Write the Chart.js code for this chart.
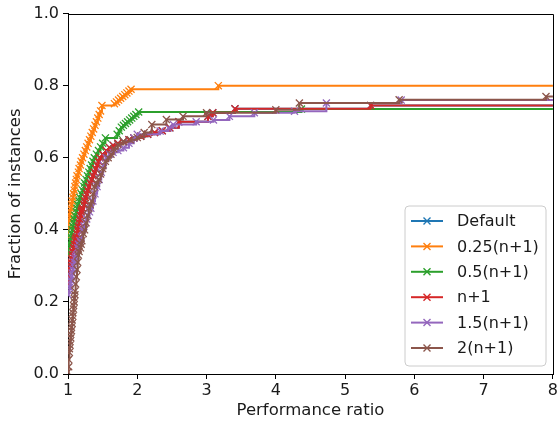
<!DOCTYPE html>
<html lang="en">
<head>
<meta charset="UTF-8" />
<title>Performance profile</title>
<script src="https://cdn.jsdelivr.net/npm/chart.js"></script>
<style>
  html, body { margin: 0; padding: 0; background: #fff; }
  canvas { display: block; }
</style>
</head>
<body>
<canvas id="profile" width="560" height="427"></canvas>
<script>
  // legend labels and tab10 colours, in plotting order
  const seriesNames = ['Default', '0.25(n+1)', '0.5(n+1)', 'n+1', '1.5(n+1)', '2(n+1)'];
  const seriesColors = ['#1f77b4', '#ff7f0e', '#2ca02c', '#d62728', '#9467bd', '#8c564b'];

  const xTicks = [1, 2, 3, 4, 5, 6, 7, 8];
  const yTicks = [0, 0.2, 0.4, 0.6, 0.8, 1.0];

  // performance ratio (x) and fraction of instances (y)
  const ratioQuarter = [1.00, 1.00, 1.01, 1.01, 1.02, 1.03, 1.04, 1.05, 1.06, 1.07, 1.08, 1.09, 1.10, 1.11, 1.12, 1.13, 1.15, 1.16, 1.18, 1.19,
    1.21, 1.23, 1.25, 1.27, 1.29, 1.31, 1.33, 1.35, 1.37, 1.39, 1.41, 1.43, 1.45, 1.47, 1.49, 1.67, 1.70, 1.73, 1.76, 1.79,
    1.82, 1.85, 1.88, 1.91, 3.17, 9];
  const fracQuarter = [0.38, 0.40, 0.42, 0.43, 0.44, 0.45, 0.46, 0.47, 0.48, 0.49, 0.50, 0.51, 0.52, 0.53, 0.54, 0.55, 0.56, 0.57, 0.58, 0.59,
    0.60, 0.61, 0.62, 0.63, 0.64, 0.65, 0.66, 0.67, 0.68, 0.69, 0.70, 0.71, 0.72, 0.73, 0.745, 0.75, 0.755, 0.76, 0.765, 0.77,
    0.775, 0.78, 0.785, 0.79, 0.80, 0.80];

  const ratioHalf = [1.00, 1.01, 1.02, 1.03, 1.04, 1.05, 1.06, 1.07, 1.08, 1.09, 1.10, 1.12, 1.13, 1.14, 1.16, 1.17, 1.19, 1.21, 1.23, 1.24,
    1.26, 1.28, 1.30, 1.32, 1.34, 1.36, 1.38, 1.41, 1.44, 1.47, 1.50, 1.54, 1.71, 1.74, 1.77, 1.80, 1.83, 1.86, 1.89, 1.92,
    1.95, 1.98, 2.02, 4.37, 9];
  const fracHalf = [0.33, 0.35, 0.36, 0.37, 0.38, 0.39, 0.40, 0.41, 0.42, 0.43, 0.44, 0.45, 0.46, 0.47, 0.48, 0.49, 0.50, 0.51, 0.52, 0.53,
    0.54, 0.55, 0.56, 0.57, 0.58, 0.59, 0.60, 0.61, 0.62, 0.63, 0.64, 0.655, 0.665, 0.675, 0.685, 0.69, 0.695, 0.70, 0.705, 0.71,
    0.715, 0.72, 0.727, 0.735, 0.735];

  const ratioN1 = [1.00, 1.01, 1.02, 1.03, 1.04, 1.05, 1.06, 1.07, 1.08, 1.09, 1.10, 1.11, 1.12, 1.13, 1.14, 1.15, 1.16, 1.17, 1.18, 1.19,
    1.20, 1.21, 1.23, 1.24, 1.25, 1.27, 1.28, 1.30, 1.32, 1.34, 1.36, 1.38, 1.40, 1.42, 1.44, 1.46, 1.50, 1.55, 1.60, 1.65,
    1.72, 1.80, 1.88, 1.95, 2.05, 2.15, 2.25, 2.36, 2.47, 2.60, 3.02, 3.09, 3.41, 5.37, 9];
  const fracN1 = [0.25, 0.27, 0.29, 0.30, 0.31, 0.32, 0.33, 0.34, 0.35, 0.36, 0.37, 0.375, 0.38, 0.39, 0.40, 0.41, 0.42, 0.43, 0.44, 0.45,
    0.455, 0.46, 0.47, 0.48, 0.49, 0.50, 0.51, 0.52, 0.53, 0.54, 0.55, 0.56, 0.57, 0.58, 0.59, 0.60, 0.61, 0.62, 0.628, 0.635,
    0.64, 0.645, 0.65, 0.655, 0.66, 0.665, 0.67, 0.675, 0.683, 0.70, 0.715, 0.725, 0.736, 0.745, 0.745];

  // Default sits under n+1 in the picture
  const ratioDefault = [1.00, 1.01, 1.02, 1.03, 1.04, 1.05, 1.06, 1.07, 1.08, 1.09, 1.10, 1.11, 1.12, 1.13, 1.14, 1.15, 1.16, 1.17, 1.18, 1.19,
    1.20, 1.21, 1.23, 1.24, 1.25, 1.27, 1.28, 1.30, 1.32, 1.34, 1.36, 1.38, 1.40, 1.42, 1.44, 1.46, 1.50, 1.55, 1.60, 1.65,
    1.72, 1.80, 1.88, 1.95, 2.05, 2.15, 2.25, 2.36, 2.47, 2.60, 3.02, 3.09, 3.41, 5.37, 9];
  const fracDefault = [0.25, 0.27, 0.29, 0.30, 0.31, 0.32, 0.33, 0.34, 0.35, 0.36, 0.37, 0.375, 0.38, 0.39, 0.40, 0.41, 0.42, 0.43, 0.44, 0.45,
    0.455, 0.46, 0.47, 0.48, 0.49, 0.50, 0.51, 0.52, 0.53, 0.54, 0.55, 0.56, 0.57, 0.58, 0.59, 0.60, 0.61, 0.62, 0.628, 0.635,
    0.64, 0.645, 0.65, 0.655, 0.66, 0.665, 0.67, 0.675, 0.683, 0.70, 0.715, 0.725, 0.736, 0.745, 0.745];

  const ratioOneHalf = [1.00, 1.01, 1.02, 1.03, 1.04, 1.05, 1.06, 1.07, 1.08, 1.09, 1.10, 1.11, 1.12, 1.14, 1.15, 1.17, 1.19, 1.21, 1.23, 1.25,
    1.27, 1.29, 1.31, 1.33, 1.36, 1.39, 1.42, 1.45, 1.48, 1.51, 1.55, 1.60, 1.65, 1.72, 1.80, 1.88, 1.95, 2.00, 2.33, 2.45,
    2.52, 2.85, 3.10, 3.33, 3.69, 4.27, 4.73, 5.81, 9];
  const fracOneHalf = [0.22, 0.23, 0.24, 0.25, 0.26, 0.27, 0.28, 0.29, 0.30, 0.31, 0.32, 0.325, 0.33, 0.35, 0.36, 0.37, 0.38, 0.40, 0.41, 0.42,
    0.43, 0.44, 0.45, 0.46, 0.48, 0.50, 0.52, 0.54, 0.56, 0.58, 0.60, 0.61, 0.615, 0.62, 0.628, 0.64, 0.655, 0.665, 0.674, 0.683,
    0.692, 0.70, 0.705, 0.715, 0.725, 0.729, 0.752, 0.76, 0.76];

  const ratioDouble = [1.00, 1.01, 1.01, 1.02, 1.02, 1.03, 1.03, 1.04, 1.04, 1.05, 1.05, 1.06, 1.06, 1.07, 1.07, 1.08, 1.08, 1.09, 1.09, 1.10,
    1.10, 1.11, 1.12, 1.13, 1.14, 1.15, 1.16, 1.18, 1.19, 1.20, 1.22, 1.24, 1.26, 1.28, 1.30, 1.32, 1.34, 1.36, 1.38, 1.41,
    1.44, 1.47, 1.50, 1.54, 1.58, 1.62, 1.66, 1.72, 1.80, 1.90, 2.00, 2.10, 2.21, 2.42, 2.66, 3.00, 4.00, 4.34, 5.78, 7.90, 9];
  const fracDouble = [0.005, 0.02, 0.04, 0.06, 0.07, 0.08, 0.09, 0.10, 0.11, 0.12, 0.13, 0.14, 0.15, 0.16, 0.17, 0.18, 0.19, 0.20, 0.21, 0.22,
    0.23, 0.25, 0.27, 0.29, 0.31, 0.33, 0.34, 0.35, 0.36, 0.37, 0.39, 0.40, 0.42, 0.44, 0.46, 0.47, 0.48, 0.50, 0.52, 0.53,
    0.54, 0.555, 0.57, 0.59, 0.60, 0.61, 0.625, 0.637, 0.645, 0.65, 0.656, 0.67, 0.692, 0.706, 0.715, 0.725, 0.733, 0.752, 0.761, 0.77, 0.77];

  const ratios = [ratioDefault, ratioQuarter, ratioHalf, ratioN1, ratioOneHalf, ratioDouble];
  const fracs = [fracDefault, fracQuarter, fracHalf, fracN1, fracOneHalf, fracDouble];

  Chart.defaults.font.family = "'DejaVu Sans', sans-serif";
  Chart.defaults.font.size = 16;
  Chart.defaults.color = '#1a1a1a';

  // top/right spines and the legend box in the lower right
  const frameAndLegend = {
    id: 'frameAndLegend',
    afterDraw(chart) {
      const { ctx, chartArea: a } = chart;
      ctx.save();
      ctx.strokeStyle = '#000';
      ctx.lineWidth = 1;
      ctx.beginPath();
      ctx.moveTo(a.left, Math.round(a.top) + 0.5);
      ctx.lineTo(Math.round(a.right) + 0.5, Math.round(a.top) + 0.5);
      ctx.lineTo(Math.round(a.right) + 0.5, a.bottom + 1);
      ctx.stroke();

      const bx = 405, by = 206, bw = 141, bh = 160, r = 4;
      ctx.beginPath();
      ctx.moveTo(bx + r, by);
      ctx.lineTo(bx + bw - r, by);
      ctx.arcTo(bx + bw, by, bx + bw, by + r, r);
      ctx.lineTo(bx + bw, by + bh - r);
      ctx.arcTo(bx + bw, by + bh, bx + bw - r, by + bh, r);
      ctx.lineTo(bx + r, by + bh);
      ctx.arcTo(bx, by + bh, bx, by + bh - r, r);
      ctx.lineTo(bx, by + r);
      ctx.arcTo(bx, by, bx + r, by, r);
      ctx.closePath();
      ctx.fillStyle = 'rgba(255,255,255,0.8)';
      ctx.fill();
      ctx.strokeStyle = '#cccccc';
      ctx.stroke();

      ctx.font = "16px 'DejaVu Sans', sans-serif";
      ctx.textBaseline = 'middle';
      ctx.textAlign = 'left';
      seriesNames.forEach((name, i) => {
        const y = 221 + i * 25.4;
        ctx.strokeStyle = seriesColors[i];
        ctx.lineWidth = 2;
        ctx.beginPath();
        ctx.moveTo(411, y);
        ctx.lineTo(443, y);
        ctx.stroke();
        ctx.lineWidth = 1.4;
        ctx.beginPath();
        ctx.moveTo(423.5, y - 3.5); ctx.lineTo(430.5, y + 3.5);
        ctx.moveTo(430.5, y - 3.5); ctx.lineTo(423.5, y + 3.5);
        ctx.stroke();
        ctx.fillStyle = '#1a1a1a';
        ctx.fillText(name, 457, y + 1);
      });
      ctx.restore();
    }
  };

  const ctx = document.getElementById('profile').getContext('2d');
  new Chart(ctx, {
    type: 'line',
    data: {
      datasets: seriesNames.map((name, i) => ({
        label: name,
        data: ratios[i].map((r, k) => ({ x: r, y: fracs[i][k] })),
        borderColor: seriesColors[i],
        backgroundColor: seriesColors[i],
        borderWidth: 2,
        stepped: true,
        fill: false,
        pointStyle: 'crossRot',
        pointRadius: 5,
        pointBorderWidth: 1.3,
        pointBorderColor: seriesColors[i],
        order: seriesNames.length - i
      }))
    },
    options: {
      responsive: false,
      animation: false,
      events: [],
      devicePixelRatio: 1,
      layout: { padding: { top: 12, right: 6, left: 0, bottom: 0 } },
      plugins: {
        legend: { display: false },
        tooltip: { enabled: false }
      },
      scales: {
        x: {
          type: 'linear',
          min: 1,
          max: 8,
          afterFit: s => { s.height = 53; },
          afterBuildTicks: s => { s.ticks = xTicks.map(v => ({ value: v })); },
          ticks: { padding: 2, maxRotation: 0, callback: v => String(v) },
          grid: { drawOnChartArea: false, drawTicks: true, tickLength: 5, color: '#000' },
          border: { color: '#000', width: 1 },
          title: { display: true, text: 'Performance ratio', padding: { top: 0, bottom: 6 }, font: { size: 16.5 } }
        },
        y: {
          min: 0,
          max: 1,
          afterFit: s => { s.width = 68; },
          afterBuildTicks: s => { s.ticks = yTicks.map(v => ({ value: v })); },
          ticks: { padding: 4, callback: v => v.toFixed(1) },
          grid: { drawOnChartArea: false, drawTicks: true, tickLength: 5, color: '#000' },
          border: { color: '#000', width: 1 },
          title: { display: true, text: 'Fraction of instances', padding: { top: 6, bottom: 0 }, font: { size: 16.5 } }
        }
      }
    },
    plugins: [frameAndLegend]
  });
</script>
</body>
</html>
